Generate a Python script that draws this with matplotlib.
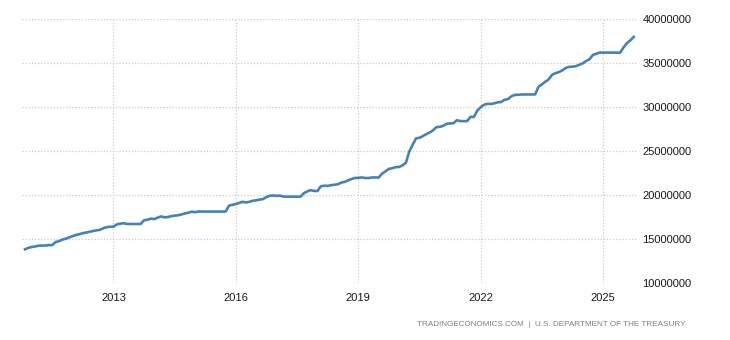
import matplotlib
matplotlib.use("Agg")
import matplotlib.pyplot as plt
import numpy as np

# U.S. total public debt outstanding, USD million, monthly from Nov 2010 to Oct 2025
start_year, start_month = 2010, 11
debt_trillions = [
    # 2010 Nov-Dec
    13.86, 14.03,
    # 2011
    14.13, 14.19, 14.27, 14.29, 14.29, 14.34, 14.34, 14.68, 14.79, 14.97, 15.07, 15.22,
    # 2012
    15.36, 15.49, 15.58, 15.69, 15.77, 15.86, 15.93, 16.02, 16.07, 16.26, 16.37, 16.43,
    # 2013
    16.43, 16.69, 16.77, 16.83, 16.74, 16.74, 16.74, 16.74, 16.74, 17.16, 17.22, 17.35,
    # 2014
    17.29, 17.46, 17.60, 17.50, 17.52, 17.63, 17.69, 17.73, 17.82, 17.94, 18.01, 18.14,
    # 2015
    18.08, 18.16, 18.15, 18.15, 18.15, 18.15, 18.15, 18.15, 18.15, 18.15, 18.83, 18.92,
    # 2016
    19.01, 19.13, 19.26, 19.19, 19.26, 19.38, 19.43, 19.51, 19.57, 19.80, 19.95, 19.98,
    # 2017
    19.94, 19.96, 19.85, 19.85, 19.85, 19.84, 19.84, 19.84, 20.24, 20.44, 20.59, 20.49,
    # 2018
    20.49, 21.03, 21.09, 21.07, 21.15, 21.20, 21.25, 21.45, 21.52, 21.70, 21.85, 21.97,
    # 2019
    21.98, 22.03, 21.97, 21.96, 22.03, 22.02, 22.02, 22.47, 22.72, 23.00, 23.08, 23.20,
    # 2020
    23.22, 23.40, 23.69, 24.97, 25.75, 26.48, 26.53, 26.73, 26.95, 27.14, 27.39, 27.75,
    # 2021
    27.78, 27.90, 28.13, 28.17, 28.20, 28.53, 28.43, 28.43, 28.43, 28.91, 28.91, 29.62,
    # 2022
    30.01, 30.29, 30.40, 30.37, 30.45, 30.57, 30.60, 30.85, 30.93, 31.24, 31.41, 31.42,
    # 2023
    31.46, 31.46, 31.46, 31.46, 31.46, 32.33, 32.61, 32.91, 33.17, 33.70, 33.88, 34.00,
    # 2024
    34.20, 34.47, 34.59, 34.62, 34.67, 34.83, 35.00, 35.26, 35.46, 35.95, 36.09, 36.22,
    # 2025 Jan-Oct
    36.22, 36.22, 36.22, 36.21, 36.21, 36.21, 36.80, 37.30, 37.60, 38.00,
]
debt_musd = np.array(debt_trillions) * 1_000_000

x_ticks = [2013, 2016, 2019, 2022, 2025]
y_ticks = [10000000, 15000000, 20000000, 25000000, 30000000, 35000000, 40000000]
source_text = "TRADINGECONOMICS.COM  |  U.S. DEPARTMENT OF THE TREASURY"

months = np.arange(len(debt_musd))
dates = start_year + (start_month - 1 + months) / 12.0

plt.rcParams["font.family"] = ["Liberation Sans", "DejaVu Sans"]

fig = plt.figure(figsize=(7.3, 3.4), dpi=100)
ax = fig.add_axes([22 / 730, 1 - 283.3 / 340, (637 - 22) / 730, (283.3 - 19.3) / 340])

ax.plot(dates, debt_musd, color="#4682b4", linewidth=1.9, solid_joinstyle="round")

ax.set_xlim(2010.76, 2025.83)
ax.set_ylim(10000000, 40000000)
ax.set_xticks(x_ticks)
ax.set_xticklabels([str(t) for t in x_ticks])
ax.set_yticks(y_ticks)
ax.set_yticklabels([str(t) for t in y_ticks])

ax.yaxis.tick_right()
ax.tick_params(axis="both", length=0, labelsize=8, colors="#1a1a1a")
ax.tick_params(axis="x", pad=7)
ax.tick_params(axis="y", pad=4)

ax.grid(True, color="#cccccc", linestyle=(0, (1, 1.5)), linewidth=0.9)
ax.set_axisbelow(True)
for spine in ax.spines.values():
    spine.set_visible(False)

fig.text(686 / 730, 1 - 324 / 340, source_text, ha="right", va="center",
         fontsize=5.9, color="#7f7f88")

fig.savefig("out.png", dpi=100)
